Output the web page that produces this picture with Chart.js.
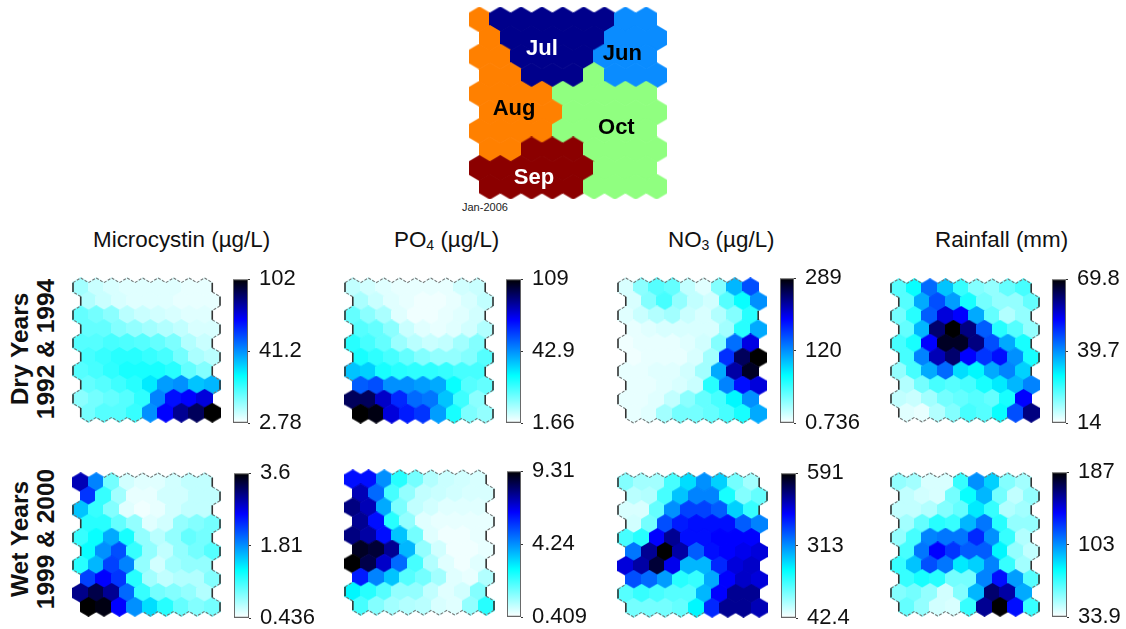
<!DOCTYPE html>
<html>
<head>
<meta charset="utf-8">
<script src="https://cdn.jsdelivr.net/npm/chart.js@4"></script>
<style>
  html, body { margin: 0; background: #fff; overflow: hidden; }
  body { position: relative; width: 1126px; height: 629px; font-family: "Liberation Sans", Arial, sans-serif; color: #111; }
  canvas { position: absolute; }
  canvas.som { filter: blur(0.5px); }
  canvas.top { filter: blur(0.4px); }
  .head { position: absolute; top: 227px; font-size: 22.4px; white-space: nowrap; }
  .head sub { font-size: 14px; line-height: 0; vertical-align: -3px; }
  .rowlab { position: absolute; font-size: 24.5px; font-weight: bold; line-height: 26px; text-align: center; white-space: nowrap; transform: translate(-50%, -50%) rotate(-90deg); }
  #stamp { position: absolute; left: 462px; top: 201px; font-size: 11px; color: #222; }
</style>
</head>
<body>
<div class="head" style="left:93px">Microcystin (µg/L)</div>
<div class="head" style="left:394px">PO<sub>4</sub> (µg/L)</div>
<div class="head" style="left:668px">NO<sub>3</sub> (µg/L)</div>
<div class="head" style="left:935px">Rainfall (mm)</div>
<div class="rowlab" style="left:33px;top:349px">Dry Years<br>1992 &amp; 1994</div>
<div class="rowlab" style="left:33px;top:539px">Wet Years<br>1999 &amp; 2000</div>
<div id="stamp">Jan-2006</div>
<script>
// month clusters on the 9 x 10 map (A Aug, J Jul, U Jun, O Oct, S Sep)
const monthGrid = [
  'AJJJJJJUU',
  'AJJJJJUUU',
  'AAJJJJUUU',
  'AAJJJOUUU',
  'AAAAOOOOO',
  'AAAAOOOOO',
  'AAAAOOOOO',
  'AASSSOOOO',
  'SSSSSSOOO',
  'SSSSSOOOO'
];
const monthColors = { A: '#ff8000', J: '#00008b', U: '#0a8cff', O: '#90ff80', S: '#8b0000' };
const monthNames = ['Jul', 'Jun', 'Aug', 'Oct', 'Sep'];
const monthNameX = [3.0, 6.86, 1.66, 6.57, 2.62];
const monthNameY = [1.57, 1.84, 4.81, 5.83, 8.53];
const monthNameColors = ['#fff', '#000', '#000', '#000', '#fff'];

// cell values as position on each colour bar, 0 = bottom, 100 = top
const microcystinDry = [
  [12, 7, 5, 4, 4, 4, 4, 3, 3],
  [10, 7, 5, 4, 4, 4, 3, 3, 3],
  [20, 18, 15, 9, 7, 6, 5, 4, 4],
  [20, 20, 16, 14, 12, 10, 8, 5, 5],
  [22, 22, 24, 23, 22, 20, 17, 10, 7],
  [24, 26, 28, 28, 26, 24, 18, 11, 9],
  [22, 24, 27, 30, 30, 30, 28, 20, 16],
  [20, 22, 25, 28, 36, 48, 50, 42, 44],
  [15, 18, 20, 22, 27, 52, 70, 72, 76],
  [18, 22, 22, 26, 50, 72, 84, 90, 100]
];
const po4Dry = [
  [8, 6, 4, 3, 3, 3, 3, 6, 7],
  [11, 7, 4, 3, 2, 2, 3, 5, 8],
  [20, 15, 11, 4, 2, 2, 3, 4, 6],
  [22, 20, 15, 7, 4, 3, 4, 6, 10],
  [28, 24, 20, 13, 9, 7, 8, 12, 16],
  [30, 27, 24, 20, 16, 14, 14, 16, 22],
  [42, 40, 30, 28, 27, 27, 26, 24, 24],
  [58, 60, 50, 50, 48, 46, 32, 22, 20],
  [90, 90, 78, 66, 56, 54, 42, 25, 15],
  [100, 98, 76, 68, 64, 48, 30, 17, 14]
];
const no3Dry = [
  [5, 15, 22, 20, 8, 4, 16, 44, 60],
  [5, 16, 24, 14, 8, 6, 22, 32, 50],
  [4, 7, 10, 12, 7, 5, 10, 16, 28],
  [3, 4, 5, 5, 5, 5, 12, 28, 46],
  [2, 3, 3, 3, 4, 6, 16, 55, 75],
  [2, 3, 3, 3, 5, 12, 65, 90, 100],
  [3, 3, 4, 4, 6, 12, 46, 82, 96],
  [3, 3, 4, 5, 7, 28, 52, 70, 76],
  [3, 3, 4, 8, 15, 20, 24, 34, 50],
  [3, 4, 12, 18, 18, 20, 24, 30, 46]
];
const rainDry = [
  [22, 32, 56, 42, 26, 16, 14, 20, 24],
  [22, 46, 60, 48, 30, 18, 14, 14, 20],
  [18, 28, 58, 76, 72, 46, 20, 10, 14],
  [20, 44, 88, 100, 86, 58, 28, 22, 14],
  [24, 30, 72, 96, 96, 86, 60, 46, 30],
  [24, 52, 80, 88, 72, 64, 70, 50, 30],
  [14, 24, 46, 56, 38, 34, 46, 52, 40],
  [10, 18, 24, 22, 24, 30, 36, 44, 52],
  [8, 7, 12, 18, 20, 22, 20, 30, 72],
  [4, 3, 10, 16, 24, 22, 32, 60, 86]
];
const microcystinWet = [
  [80, 52, 18, 6, 4, 4, 6, 8, 8],
  [64, 26, 12, 3, 3, 6, 6, 8, 8],
  [42, 26, 16, 4, 2, 3, 6, 8, 8],
  [28, 28, 20, 14, 4, 6, 14, 16, 18],
  [26, 32, 46, 30, 14, 9, 14, 20, 18],
  [32, 50, 60, 26, 14, 8, 14, 18, 22],
  [28, 44, 62, 52, 14, 6, 12, 14, 14],
  [62, 72, 64, 28, 12, 8, 10, 10, 16],
  [85, 92, 84, 56, 26, 18, 16, 14, 10],
  [100, 98, 72, 50, 38, 28, 20, 16, 18]
];
const po4Wet = [
  [70, 70, 50, 28, 18, 10, 7, 6, 5],
  [80, 56, 24, 14, 8, 7, 6, 5, 5],
  [86, 80, 46, 17, 8, 6, 4, 4, 4],
  [84, 70, 28, 14, 4, 3, 3, 3, 3],
  [86, 82, 70, 42, 18, 4, 2, 2, 3],
  [96, 94, 84, 44, 14, 6, 2, 2, 3],
  [100, 92, 78, 56, 24, 10, 4, 2, 4],
  [68, 52, 42, 22, 18, 12, 4, 3, 10],
  [34, 28, 22, 14, 14, 8, 4, 6, 16],
  [24, 16, 12, 10, 9, 5, 4, 14, 28]
];
const no3Wet = [
  [16, 12, 12, 24, 38, 50, 40, 18, 12],
  [9, 10, 24, 42, 52, 52, 30, 16, 20],
  [5, 5, 20, 50, 62, 62, 58, 40, 26],
  [6, 18, 60, 68, 70, 70, 70, 58, 52],
  [24, 28, 72, 84, 70, 70, 72, 72, 72],
  [54, 84, 100, 82, 58, 70, 72, 74, 76],
  [76, 82, 94, 74, 44, 44, 66, 76, 78],
  [60, 56, 48, 28, 26, 46, 72, 78, 76],
  [22, 26, 24, 22, 22, 44, 72, 84, 84],
  [18, 18, 18, 20, 34, 66, 84, 84, 80]
];
const rainWet = [
  [14, 12, 5, 5, 26, 50, 40, 16, 12],
  [8, 6, 5, 18, 32, 44, 18, 8, 14],
  [8, 8, 10, 16, 20, 36, 26, 10, 12],
  [12, 20, 28, 26, 44, 54, 28, 14, 14],
  [14, 24, 52, 54, 54, 66, 50, 26, 10],
  [24, 54, 72, 64, 58, 58, 34, 14, 8],
  [26, 42, 60, 54, 36, 40, 52, 26, 12],
  [26, 30, 28, 18, 18, 52, 70, 48, 22],
  [16, 18, 14, 6, 16, 44, 88, 82, 46],
  [20, 14, 6, 5, 26, 84, 100, 70, 26]
];

// colour bar labels, bottom / middle / top
const microcystinDryTicks = ['2.78', '41.2', '102'];
const po4DryTicks = ['1.66', '42.9', '109'];
const no3DryTicks = ['0.736', '120', '289'];
const rainDryTicks = ['14', '39.7', '69.8'];
const microcystinWetTicks = ['0.436', '1.81', '3.6'];
const po4WetTicks = ['0.409', '4.24', '9.31'];
const no3WetTicks = ['42.4', '313', '591'];
const rainWetTicks = ['33.9', '103', '187'];

Chart.defaults.font.family = '"Liberation Sans", Arial, sans-serif';
Chart.defaults.animation = false;
Chart.defaults.layout.autoPadding = false;
Chart.defaults.maintainAspectRatio = false;

// white > cyan > blue > black
const colourStops = [[0, [255, 255, 255]], [0.33, [0, 255, 255]], [0.72, [0, 0, 255]], [1, [0, 0, 0]]];

function levelColour(level) {
  const t = level / 100;
  for (let i = 1; i < colourStops.length; i++) {
    if (t <= colourStops[i][0]) {
      const a = colourStops[i - 1], b = colourStops[i];
      const f = (t - a[0]) / (b[0] - a[0]);
      const c = a[1].map((v, k) => Math.round(v + (b[1][k] - v) * f));
      return `rgb(${c[0]},${c[1]},${c[2]})`;
    }
  }
  return 'rgb(0,0,0)';
}

function hexImage(colour, w, h) {
  const cv = document.createElement('canvas');
  cv.width = Math.ceil(w);
  cv.height = Math.ceil(h);
  const c = cv.getContext('2d');
  const W = cv.width, H = cv.height;
  c.fillStyle = colour;
  c.beginPath();
  c.moveTo(W / 2, 0);
  c.lineTo(W, H / 4);
  c.lineTo(W, H * 3 / 4);
  c.lineTo(W / 2, H);
  c.lineTo(0, H * 3 / 4);
  c.lineTo(0, H / 4);
  c.closePath();
  c.fill();
  return cv;
}

function addCanvas(left, top, width, height, cls) {
  const cv = document.createElement('canvas');
  cv.width = width;
  cv.height = height;
  cv.style.left = left + 'px';
  cv.style.top = top + 'px';
  if (cls) cv.className = cls;
  document.body.appendChild(cv);
  return cv;
}

const hexScales = {
  x: { type: 'linear', display: false, min: -0.5, max: 9 },
  y: { type: 'linear', display: false, min: -2 / 3, max: 9 + 2 / 3, reverse: true }
};

// cell centres: every second row sits half a cell to the right
function cellsFrom(rows) {
  const pts = [];
  rows.forEach((row, r) => {
    for (let c = 0; c < 9; c++) {
      pts.push({ x: c + (r % 2 ? 0.5 : 0), y: r, v: row[c] });
    }
  });
  return pts;
}

// outer edges of light cells only, dark cells hide the outline
function outline(rows) {
  const side = [], zigzag = [];
  const v = [[0, -2 / 3], [0.5, -1 / 3], [0.5, 1 / 3], [0, 2 / 3], [-0.5, 1 / 3], [-0.5, -1 / 3]];
  const has = (r, c) => r >= 0 && r < 10 && c >= 0 && c < 9;
  rows.forEach((row, r) => {
    for (let c = 0; c < 9; c++) {
      if (row[c] > 45) continue;
      const shift = r % 2 ? 0 : -1;
      const near = [[r - 1, c + shift + 1], [r, c + 1], [r + 1, c + shift + 1], [r + 1, c + shift], [r, c - 1], [r - 1, c + shift]];
      const cx = c + (r % 2 ? 0.5 : 0);
      near.forEach((n, i) => {
        if (has(n[0], n[1])) return;
        // the upright edges are the darkest in the picture
        const list = i === 1 || i === 4 ? side : zigzag;
        const a = v[i], b = v[(i + 1) % 6];
        list.push({ x: cx + a[0], y: r + a[1] }, { x: cx + b[0], y: r + b[1] }, { x: NaN, y: NaN });
      });
    }
  });
  return { side, zigzag };
}

function drawSom(left, top, right, bottom, rows) {
  const pad = 3;
  const w = (right - left) / 9.5 + 0.6;
  const h = (bottom - top) / 15.5 * 2 + 0.6;
  const edges = outline(rows);
  new Chart(addCanvas(Math.round(left) - pad, Math.round(top) - pad, Math.round(right - left) + 2 * pad, Math.round(bottom - top) + 2 * pad, 'som'), {
    type: 'scatter',
    data: {
      datasets: [
        { data: edges.side, showLine: true, spanGaps: false, pointRadius: 0, borderColor: '#333', borderWidth: 1.6, clip: false },
        { data: edges.zigzag, showLine: true, spanGaps: false, pointRadius: 0, borderColor: '#777', borderWidth: 1.1, borderDash: [3, 1.5], clip: false },
        {
          data: cellsFrom(rows),
          clip: false,
          pointStyle: ctx => hexImage(levelColour(ctx.raw.v), w, h)
        }
      ]
    },
    options: {
      responsive: false,
      layout: { padding: pad },
      scales: hexScales,
      plugins: { legend: { display: false }, tooltip: { enabled: false } }
    }
  });
}

function drawBar(left, top, right, bottom, ticks) {
  const cv = addCanvas(Math.round(left), Math.round(top) - 16, Math.round(right - left) + 90, Math.round(bottom - top) + 32);
  const chart = new Chart(cv, {
    type: 'bar',
    data: {
      labels: [''],
      datasets: [{
        data: [[0, 100]],
        barPercentage: 1,
        categoryPercentage: 1,
        borderColor: '#666',
        borderWidth: 1.3,
        borderSkipped: false,
        backgroundColor: ctx => {
          const a = ctx.chart.chartArea;
          if (!a) return '#fff';
          const g = ctx.chart.ctx.createLinearGradient(0, a.bottom, 0, a.top);
          colourStops.forEach(s => g.addColorStop(s[0], `rgb(${s[1].join(',')})`));
          return g;
        }
      }]
    },
    options: {
      responsive: false,
      scales: {
        x: { display: false },
        y: {
          position: 'right',
          min: 0,
          max: 100,
          afterFit: s => { s.width = 90; },
          border: { display: false },
          grid: { drawOnChartArea: false, tickLength: 2, tickColor: '#333' },
          ticks: {
            stepSize: 50,
            padding: 9,
            color: '#111',
            font: { size: 22 },
            callback: val => ticks[val / 50]
          }
        }
      },
      plugins: { legend: { display: false }, tooltip: { enabled: false } }
    }
  });
  // the axis labels take some room above and below, so grow the canvas to get the bar height wanted
  const area = chart.chartArea;
  chart.resize(cv.width, Math.round(bottom - top) + cv.height - (area.bottom - area.top));
  cv.style.top = (top - chart.chartArea.top) + 'px';
}

// month map at the top
const monthPoints = [];
monthGrid.forEach((row, r) => {
  for (let c = 0; c < 9; c++) {
    monthPoints.push({ x: c + (r % 2 ? 0.5 : 0), y: r, m: row[c] });
  }
});
const monthLabels = {
  id: 'monthLabels',
  afterDatasetsDraw(chart) {
    const c = chart.ctx;
    c.save();
    c.font = 'bold 22px "Liberation Sans", Arial, sans-serif';
    c.textAlign = 'center';
    c.textBaseline = 'middle';
    monthNames.forEach((name, i) => {
      c.fillStyle = monthNameColors[i];
      c.fillText(name, chart.scales.x.getPixelForValue(monthNameX[i]), chart.scales.y.getPixelForValue(monthNameY[i]));
    });
    c.restore();
  }
};
const mapW = 197.7 / 9.5 + 0.6, mapH = 191.6 / 15.5 * 2 + 0.6;
new Chart(addCanvas(469, 7, 198, 192, 'top'), {
  type: 'scatter',
  data: {
    datasets: [{
      data: monthPoints,
      clip: false,
      pointStyle: ctx => hexImage(monthColors[ctx.raw.m], mapW, mapH)
    }]
  },
  options: {
    responsive: false,
    scales: hexScales,
    plugins: { legend: { display: false }, tooltip: { enabled: false } }
  },
  plugins: [monthLabels]
});

drawSom(72.7, 278, 220, 421.7, microcystinDry);
drawSom(345, 278, 493, 423, po4Dry);
drawSom(617.7, 278, 765.7, 422.7, no3Dry);
drawSom(891, 279, 1039, 422, rainDry);
drawSom(72.7, 472.7, 220, 615.7, microcystinWet);
drawSom(345, 470, 494, 615, po4Wet);
drawSom(618.3, 472.7, 767, 616.7, no3Wet);
drawSom(891, 472.7, 1039, 616, rainWet);

drawBar(233, 279, 248, 423, microcystinDryTicks);
drawBar(506, 279, 521, 423, po4DryTicks);
drawBar(780, 278, 794, 423, no3DryTicks);
drawBar(1052, 279, 1066, 423, rainDryTicks);
drawBar(234, 473, 249, 618, microcystinWetTicks);
drawBar(507, 471, 521, 617, po4WetTicks);
drawBar(781, 473, 796, 618, no3WetTicks);
drawBar(1052, 472, 1067, 617, rainWetTicks);
</script>
</body>
</html>
